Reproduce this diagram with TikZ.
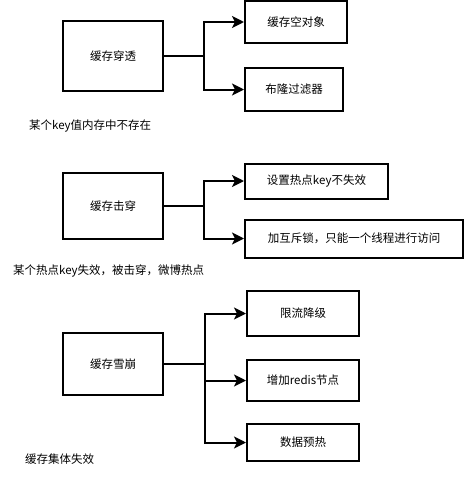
\documentclass[tikz,border=0pt]{standalone}
\usepackage{fontspec}
\setmainfont{Noto Sans CJK SC}
\usetikzlibrary{arrows.meta}
\begin{document}
\begin{tikzpicture}[x=1pt,y=-1pt,
  box/.style={draw=black,line width=2pt,inner sep=0pt,font=\fontsize{11.5}{13}\selectfont},
  conn/.style={line width=2pt},
  arr/.style={line width=2pt,-{Stealth[length=12pt,width=12pt,inset=3pt]}},
  lbl/.style={anchor=west,inner sep=0pt,font=\fontsize{11.5}{13}\selectfont}]
\useasboundingbox (0,0) rectangle (465,479);
% group 1
\node[box,minimum width=100pt,minimum height=70pt] (a) at (113,56) {缓存穿透};
\node[box,minimum width=102pt,minimum height=42pt] (a1) at (296,22) {缓存空对象};
\node[box,minimum width=98pt,minimum height=43pt] (a2) at (294,89.5) {布隆过滤器};
\coordinate (ja) at (203.5,56);
\draw[conn] (a.east) -- (ja);
\draw[arr] (ja) |- (a1.west);
\draw[arr] (ja) |- (a2.west);
\node[lbl] (la) at (29,126) {某个key值内存中不存在};
% group 2
\node[box,minimum width=100pt,minimum height=66pt] (b) at (113,206) {缓存击穿};
\node[box,minimum width=143pt,minimum height=35pt] (b1) at (316.5,181) {设置热点key不失效};
\node[box,minimum width=218pt,minimum height=38pt] (b2) at (354,238.5) {加互斥锁，只能一个线程进行访问};
\coordinate (jb) at (203.5,206);
\draw[conn] (b.east) -- (jb);
\draw[arr] (jb) |- (b1.west);
\draw[arr] (jb) |- (b2.west);
\node[lbl] (lb) at (13,271) {某个热点key失效，被击穿，微博热点};
% group 3
\node[box,minimum width=100pt,minimum height=62pt] (c) at (113,364) {缓存雪崩};
\node[box,minimum width=112pt,minimum height=45pt] (c1) at (303,313.5) {限流降级};
\node[box,minimum width=112pt,minimum height=41pt] (c2) at (303,380.5) {增加redis节点};
\node[box,minimum width=112pt,minimum height=37pt] (c3) at (303,442.5) {数据预热};
\coordinate (jc) at (204.5,364);
\draw[conn] (c.east) -- (jc);
\draw[arr] (jc) |- (c1.west);
\draw[arr] (jc) |- (c2.west);
\draw[arr] (jc) |- (c3.west);
\node[lbl] (lc) at (25,459) {缓存集体失效};
\end{tikzpicture}
\end{document}
